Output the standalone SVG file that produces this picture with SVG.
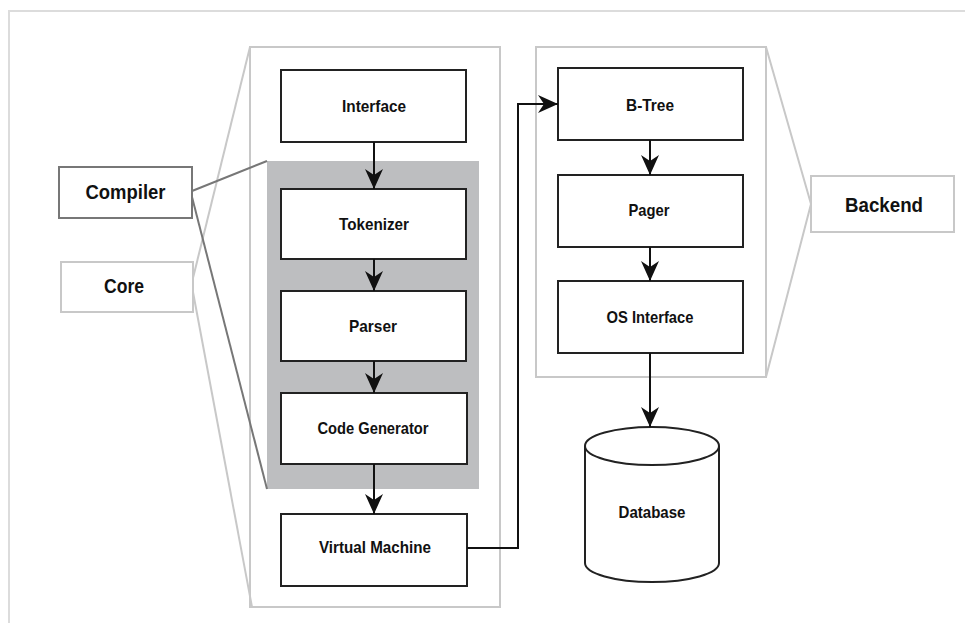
<svg xmlns="http://www.w3.org/2000/svg" width="965" height="623" viewBox="0 0 965 623">
<defs>
<style>
.t{font-family:"Liberation Sans","DejaVu Sans",Arial,sans-serif;font-weight:bold;fill:#111;text-anchor:middle;}
.s{font-size:17px;}
.l{font-size:21px;}
.box{fill:#fff;stroke:#222;stroke-width:2;}
.frame{fill:none;stroke:#c8c8c8;stroke-width:2;}
.conn{fill:none;stroke:#111;stroke-width:2;}
.gl{fill:none;stroke:#c8c8c8;stroke-width:2;}
.dl{fill:none;stroke:#777;stroke-width:2;}
</style>
<marker id="ah" viewBox="0 0 20 18" refX="20" refY="9" markerWidth="20" markerHeight="18" markerUnits="userSpaceOnUse" orient="auto">
<path d="M0,0 L20,9 L0,18 L6,9 Z" fill="#111"/>
</marker>
</defs>
<rect width="965" height="623" fill="#fff"/>
<path d="M9,623 V11 H965" fill="none" stroke="#dcdcdc" stroke-width="2"/>

<g id="core-frame"><rect class="frame" x="250" y="47" width="250" height="560"/></g>
<g id="compiler-block"><rect x="267" y="161" width="212" height="328" fill="#bdbec0"/></g>
<g id="backend-frame"><rect class="frame" x="536" y="47" width="230" height="330"/></g>

<g id="callout-lines">
<path class="gl" d="M193,278 L250,47"/>
<path class="gl" d="M193,292 L252,607"/>
<path class="dl" d="M192,191 L267,161"/>
<path class="dl" d="M192,197 L267,489"/>
<path class="gl" d="M766,47 L811,204 L766,377"/>
</g>

<g id="compiler"><rect x="59" y="167" width="133" height="51" fill="#fff" stroke="#777" stroke-width="2"/><text class="t l" x="125.5" y="199" textLength="80" lengthAdjust="spacingAndGlyphs">Compiler</text></g>
<g id="core"><rect x="61" y="262" width="132" height="50" fill="#fff" stroke="#c8c8c8" stroke-width="2"/><text class="t l" x="124" y="293" textLength="40" lengthAdjust="spacingAndGlyphs">Core</text></g>
<g id="backend"><rect x="811" y="176" width="143" height="56" fill="#fff" stroke="#c8c8c8" stroke-width="2"/><text class="t l" x="884" y="212" textLength="78" lengthAdjust="spacingAndGlyphs">Backend</text></g>

<g id="interface"><rect class="box" x="281" y="70" width="185" height="72"/><text class="t s" x="374" y="112" textLength="64" lengthAdjust="spacingAndGlyphs">Interface</text></g>
<g id="tokenizer"><rect class="box" x="281" y="189" width="185" height="70"/><text class="t s" x="374" y="230" textLength="70" lengthAdjust="spacingAndGlyphs">Tokenizer</text></g>
<g id="parser"><rect class="box" x="281" y="291" width="185" height="70"/><text class="t s" x="373" y="332" textLength="48" lengthAdjust="spacingAndGlyphs">Parser</text></g>
<g id="code-generator"><rect class="box" x="281" y="393" width="186" height="71"/><text class="t s" x="373" y="434" textLength="111" lengthAdjust="spacingAndGlyphs">Code Generator</text></g>
<g id="virtual-machine"><rect class="box" x="281" y="514" width="186" height="72"/><text class="t s" x="375" y="553" textLength="112" lengthAdjust="spacingAndGlyphs">Virtual Machine</text></g>

<g id="b-tree"><rect class="box" x="558" y="68" width="185" height="72"/><text class="t s" x="650" y="111" textLength="48" lengthAdjust="spacingAndGlyphs">B-Tree</text></g>
<g id="pager"><rect class="box" x="558" y="175" width="185" height="72"/><text class="t s" x="649" y="216" textLength="41" lengthAdjust="spacingAndGlyphs">Pager</text></g>
<g id="os-interface"><rect class="box" x="558" y="281" width="185" height="72"/><text class="t s" x="650" y="323" textLength="87" lengthAdjust="spacingAndGlyphs">OS Interface</text></g>

<g id="database">
<path d="M585,446 V563 A67,19 0 0 0 719,563 V446" fill="#fff" stroke="#222" stroke-width="2"/>
<ellipse cx="652" cy="446" rx="67" ry="19" fill="#fff" stroke="#222" stroke-width="2"/>
<text class="t s" x="652" y="518" textLength="67" lengthAdjust="spacingAndGlyphs">Database</text>
</g>

<g id="connectors">
<path class="conn" d="M374,142 V189" marker-end="url(#ah)"/>
<path class="conn" d="M374,259 V291" marker-end="url(#ah)"/>
<path class="conn" d="M374,361 V393" marker-end="url(#ah)"/>
<path class="conn" d="M374,464 V514" marker-end="url(#ah)"/>
<path class="conn" d="M467,548 H518 V104 H558" marker-end="url(#ah)"/>
<path class="conn" d="M650,140 V175" marker-end="url(#ah)"/>
<path class="conn" d="M650,247 V281" marker-end="url(#ah)"/>
<path class="conn" d="M650,353 V427" marker-end="url(#ah)"/>
</g>
</svg>
